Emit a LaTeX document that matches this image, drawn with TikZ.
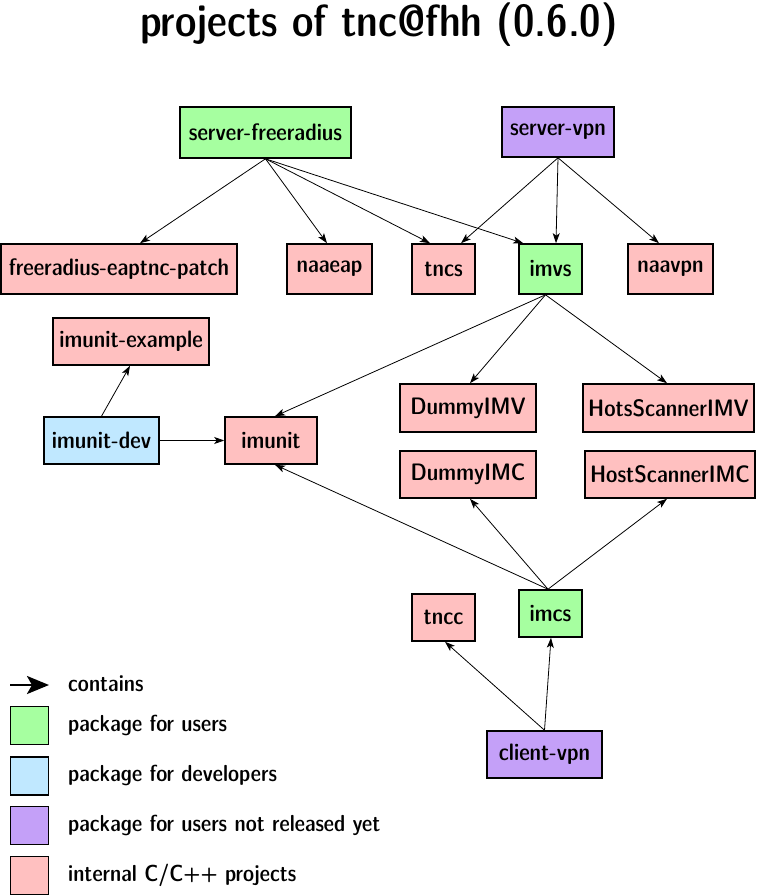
\documentclass[tikz,border=0pt]{standalone}
\usepackage{fontspec}
\newfontfamily\lmsdc{lmsansdemicond10-regular}[Extension=.otf]
\usetikzlibrary{arrows.meta}
\definecolor{cgreen}{RGB}{166,255,160}
\definecolor{cblue}{RGB}{192,232,255}
\definecolor{cpurple}{RGB}{196,160,248}
\definecolor{cpink}{RGB}{255,192,192}
\newcommand{\boxfont}{\lmsdc\fontsize{23.8}{28}\selectfont}
\newcommand{\legfont}{\lmsdc\fontsize{23.2}{28}\selectfont}
\tikzset{
  pbox/.style={draw=black, line width=1.6pt, inner sep=0pt, font=\boxfont},
  users/.style={pbox, fill=cgreen},
  devs/.style={pbox, fill=cblue},
  unrel/.style={pbox, fill=cpurple},
  internal/.style={pbox, fill=cpink},
  contains/.style={line width=0.8pt, -{Stealth[length=10pt,width=7pt,inset=2.5pt]}},
  legtext/.style={anchor=base west, inner sep=0pt, font=\legfont},
  legsq/.style={draw=black, line width=1.6pt, minimum width=38pt, minimum height=38pt, inner sep=0pt}
}
\begin{document}
\begin{tikzpicture}[x=1pt,y=-1pt]
\useasboundingbox (0,0) rectangle (757,896);
\node[font=\lmsdc\fontsize{45}{52}\selectfont, anchor=base, inner sep=0pt] (title) at (379,36.5) {projects of tnc@fhh (0.6.0)};

% nodes
\node[users, minimum width=171pt, minimum height=51pt] (sf) at (265.5,132.5) {server-freeradius};
\node[unrel, minimum width=112pt, minimum height=50pt] (sv) at (558,132) {server-vpn};
\node[internal, minimum width=236pt, minimum height=50pt] (fep) at (119,269) {freeradius-eaptnc-patch};
\node[internal, minimum width=85pt, minimum height=50pt] (naaeap) at (329.5,269) {naaeap};
\node[internal, minimum width=63pt, minimum height=50pt] (tncs) at (443.5,269) {tncs};
\node[users, minimum width=63pt, minimum height=50pt] (imvs) at (550.5,269) {imvs};
\node[internal, minimum width=85pt, minimum height=50pt] (naavpn) at (670.5,269) {naavpn};
\node[internal, minimum width=156pt, minimum height=47pt] (ie) at (131,341.5) {imunit-example};
\node[devs, minimum width=115pt, minimum height=47pt] (idev) at (101.5,440.5) {imunit-dev};
\node[internal, minimum width=92pt, minimum height=47pt] (imunit) at (271,440.5) {imunit};
\node[internal, minimum width=136pt, minimum height=48pt] (dimv) at (468,408) {DummyIMV};
\node[internal, minimum width=171pt, minimum height=48pt] (hsimv) at (668.5,408) {HotsScannerIMV};
\node[internal, minimum width=136pt, minimum height=47pt] (dimc) at (468,474.5) {DummyIMC};
\node[internal, minimum width=170pt, minimum height=47pt] (hsimc) at (670,474.5) {HostScannerIMC};
\node[internal, minimum width=63pt, minimum height=47pt] (tncc) at (443.5,617.5) {tncc};
\node[users, minimum width=63pt, minimum height=47pt] (imcs) at (550.5,613.5) {imcs};
\node[unrel, minimum width=115pt, minimum height=47pt] (cvpn) at (544.5,754.5) {client-vpn};

% edges
\draw[contains] (sf.south) -- ([xshift=21pt]fep.north);
\draw[contains] (sf.south) -- ([xshift=-2.5pt]naaeap.north);
\draw[contains] (sf.south) -- ([xshift=-13.5pt]tncs.north);
\draw[contains] (sf.south) -- ([xshift=5pt]imvs.north west);
\draw[contains] (sv.south) -- ([xshift=17.5pt]tncs.north);
\draw[contains] (sv.south) -- ([xshift=5.5pt]imvs.north);
\draw[contains] (sv.south) -- ([xshift=-11.5pt]naavpn.north);
\draw[contains] ([xshift=-5pt]imvs.south) -- ([xshift=4pt]imunit.north);
\draw[contains] ([xshift=-5pt]imvs.south) -- ([xshift=2pt]dimv.north);
\draw[contains] ([xshift=-5pt]imvs.south) -- ([xshift=-1.5pt]hsimv.north);
\draw[contains] (idev.north) -- ([xshift=-1pt]ie.south);
\draw[contains] (idev.east) -- (imunit.west);
\draw[contains] ([xshift=-2.5pt]imcs.north) -- ([xshift=4pt]imunit.south);
\draw[contains] ([xshift=-2.5pt]imcs.north) -- ([xshift=2pt]dimc.south);
\draw[contains] ([xshift=-2.5pt]imcs.north) -- ([xshift=-3pt]hsimc.south);
\draw[contains] (cvpn.north) -- ([xshift=1.5pt]tncc.south);
\draw[contains] (cvpn.north) -- ([xshift=0.5pt]imcs.south);

% legend
\coordinate (la) at (10,685);
\coordinate (lb) at (49,685);
\draw[line width=2.6pt, -{Stealth[length=22pt,width=18pt,inset=5pt]}] (la) -- (lb);
\node[legtext] (lt0) at (68,691) {contains};
\node[legsq, fill=cgreen] (ls1) at (29.5,725.5) {};
\node[legtext] (lt1) at (68,731) {package for users};
\node[legsq, fill=cblue] (ls2) at (29.5,776) {};
\node[legtext] (lt2) at (68,781) {package for developers};
\node[legsq, fill=cpurple] (ls3) at (29.5,825.5) {};
\node[legtext] (lt3) at (68,831) {package for users not released yet};
\node[legsq, fill=cpink] (ls4) at (29.5,875.5) {};
\node[legtext] (lt4) at (68,881) {internal C/C++ projects};
\end{tikzpicture}
\end{document}
